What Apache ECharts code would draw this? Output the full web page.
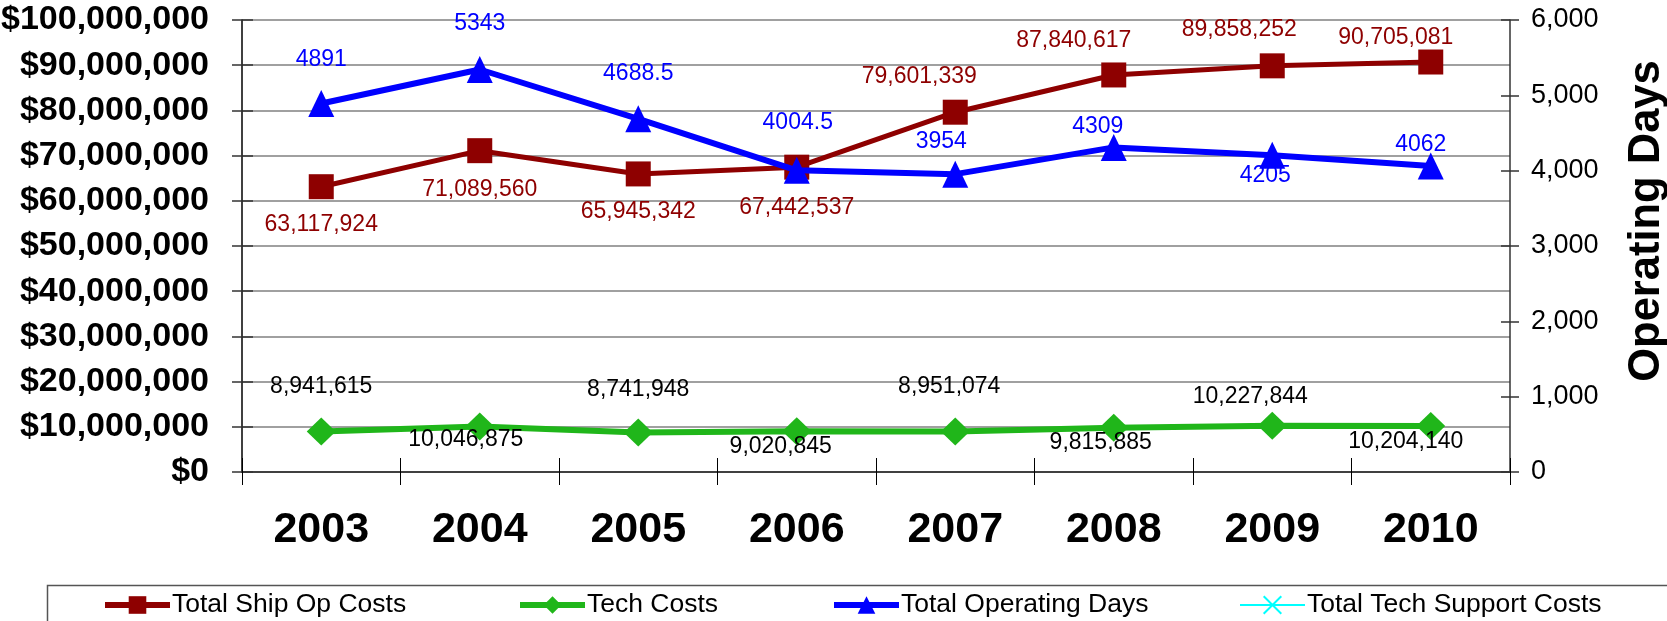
<!DOCTYPE html>
<html>
<head>
<meta charset="UTF-8">
<title>Ship Op Costs</title>
<script src="https://cdn.jsdelivr.net/npm/echarts@6/dist/echarts.min.js"></script>
<style>
  html, body { margin: 0; padding: 0; background: #fff; }
</style>
</head>
<body>
<div id="main" style="width: 1667px; height: 621px;"></div>
<script type="text/javascript">
// data
var years = ['2003', '2004', '2005', '2006', '2007', '2008', '2009', '2010'];
var shipOpCosts = [63117924, 71089560, 65945342, 67442537, 79601339, 87840617, 89858252, 90705081];
var techCosts = [8941615, 10046875, 8741948, 9020845, 8951074, 9815885, 10227844, 10204140];
var operatingDays = [4891, 5343, 4688.5, 4004.5, 3954, 4309, 4205, 4062];
var techSupportCosts = [];

// label placement (pixels relative to the point)
var shipLabelOffset = [[0, 38], [0, 39], [0, 38], [0, 40], [-36, -36], [-40, -34], [-33, -36], [-35, -24]];
var techLabelOffset = [[0, -45], [-14, 13], [0, -43], [-16, 15], [-6, -45], [-13, 15], [-22, -29], [-25, 16]];
var daysLabelOffset = [[0, -44], [0, -46], [0, -45], [1, -48], [-14, -32], [-16, -21], [-7, 20], [-10, -21]];

var FONT = 'Liberation Sans, Arial, sans-serif';

function withLabels(values, offsets) {
    var out = [];
    for (var i = 0; i < values.length; i++) {
        out.push({ value: values[i], label: { offset: offsets[i] } });
    }
    return out;
}

function fmt(v) {
    return String(v).replace(/\B(?=(\d{3})+(?!\d))/g, ',');
}

var myChart = echarts.init(document.getElementById('main'));

function legendAt(left, name, width) {
    return {
        orient: 'horizontal',
        left: left,
        top: 591,
        padding: 0,
        itemWidth: 65,
        itemHeight: 22,
        itemGap: 6,
        lineStyle: { width: width },
        textStyle: { fontFamily: FONT, fontSize: 26.5, color: '#000', lineHeight: 28, padding: [0, 0, 0, -3] },
        data: [name]
    };
}

var option = {
    backgroundColor: '#fff',
    animation: false,
    grid: { left: 242, right: 157, top: 20, bottom: 149, containLabel: false, outerBoundsMode: 'none' },
    legend: [
        legendAt(102, 'Total Ship Op Costs', 6),
        legendAt(517, 'Tech Costs', 6),
        legendAt(831, 'Total Operating Days', 6),
        legendAt(1239, 'Total Tech Support Costs', 2)
    ],
    graphic: [{
        type: 'rect',
        left: 45, top: 583,
        shape: { width: 1700, height: 60 },
        style: { fill: 'none', stroke: '#555', lineWidth: 1.5 },
        z: -1
    }, {
        type: 'text',
        x: 1647, y: 221,
        rotation: Math.PI / 2,
        style: {
            text: 'Operating Days',
            font: 'bold 43.5px ' + FONT,
            fill: '#000',
            textAlign: 'center',
            textVerticalAlign: 'middle'
        }
    }],
    xAxis: [{
        type: 'category',
        data: years,
        boundaryGap: true,
        axisLine: { lineStyle: { color: '#404040', width: 2 } },
        axisTick: { show: true, length: 13, lineStyle: { color: '#000', width: 1 } },
        axisLabel: {
            fontFamily: FONT, fontSize: 43, fontWeight: 'bold', color: '#000',
            lineHeight: 43, margin: 37, interval: 0
        },
        splitLine: { show: false }
    }, {
        // inner half of the crossing ticks
        type: 'category',
        data: years,
        position: 'bottom',
        axisLine: { show: false },
        axisTick: { show: true, inside: true, length: 14, lineStyle: { color: '#000', width: 1 } },
        axisLabel: { show: false },
        splitLine: { show: false }
    }],
    yAxis: [{
        type: 'value',
        min: 0, max: 100000000, interval: 10000000,
        position: 'left',
        axisLine: { show: true, lineStyle: { color: '#000', width: 1.5 } },
        axisTick: { show: true, length: 10, lineStyle: { color: '#333', width: 1.5 } },
        axisLabel: {
            fontFamily: FONT, fontSize: 34, fontWeight: 'bold', color: '#000', margin: 33,
            formatter: function (v) { return '$' + fmt(v); }
        },
        splitLine: { show: true, lineStyle: { color: '#808080', width: 1.5 } }
    }, {
        type: 'value',
        min: 0, max: 6000, interval: 1000,
        position: 'right',
        axisLine: { show: true, lineStyle: { color: '#333', width: 1.5 } },
        axisTick: { show: true, length: 9, lineStyle: { color: '#333', width: 1.5 } },
        axisLabel: {
            fontFamily: FONT, fontSize: 27, color: '#000', margin: 21,
            formatter: function (v) { return fmt(v); }
        },
        splitLine: { show: false }
    }, {
        type: 'value',
        min: 0, max: 100000000, interval: 10000000,
        position: 'left',
        axisLine: { show: false },
        axisTick: { show: true, inside: true, length: 11, lineStyle: { color: '#333', width: 1.5 } },
        axisLabel: { show: false },
        splitLine: { show: false }
    }, {
        type: 'value',
        min: 0, max: 6000, interval: 1000,
        position: 'right',
        axisLine: { show: false },
        axisTick: { show: true, inside: true, length: 9, lineStyle: { color: '#333', width: 1.5 } },
        axisLabel: { show: false },
        splitLine: { show: false }
    }],
    series: [{
        name: 'Total Ship Op Costs',
        type: 'line',
        yAxisIndex: 0,
        symbol: 'rect',
        symbolSize: 25,
        lineStyle: { color: '#8e0000', width: 5 },
        itemStyle: { color: '#8e0000' },
        label: {
            show: true, position: 'inside',
            fontFamily: FONT, fontSize: 23, color: '#8e0000',
            formatter: function (p) { return fmt(p.value); }
        },
        data: withLabels(shipOpCosts, shipLabelOffset),
        z: 2
    }, {
        name: 'Tech Costs',
        type: 'line',
        yAxisIndex: 0,
        symbol: 'diamond',
        symbolSize: [29, 28],
        lineStyle: { color: '#20b61a', width: 6 },
        itemStyle: { color: '#20b61a' },
        label: {
            show: true, position: 'inside',
            fontFamily: FONT, fontSize: 23, color: '#000',
            formatter: function (p) { return fmt(p.value); }
        },
        data: withLabels(techCosts, techLabelOffset),
        z: 3
    }, {
        name: 'Total Operating Days',
        type: 'line',
        yAxisIndex: 1,
        symbol: 'triangle',
        symbolSize: [26, 27],
        lineStyle: { color: '#0000ff', width: 6 },
        itemStyle: { color: '#0000ff' },
        label: {
            show: true, position: 'inside',
            fontFamily: FONT, fontSize: 23, color: '#0000ff',
            formatter: function (p) { return String(p.value); }
        },
        data: withLabels(operatingDays, daysLabelOffset),
        z: 4
    }, {
        name: 'Total Tech Support Costs',
        type: 'line',
        yAxisIndex: 0,
        symbol: 'path://M0,0 L10,10 M10,0 L0,10',
        symbolSize: 14,
        lineStyle: { color: '#00ffff', width: 2 },
        itemStyle: { color: '#00ffff', borderColor: '#00ffff', borderWidth: 2 },
        data: techSupportCosts,
        z: 5
    }]
};

myChart.setOption(option);
</script>
</body>
</html>
